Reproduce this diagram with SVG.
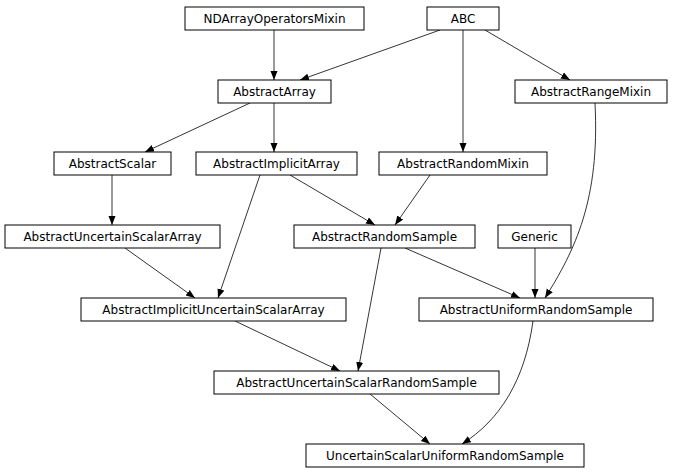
<svg xmlns="http://www.w3.org/2000/svg" width="675" height="476" viewBox="0 0 675 476">
<style>
.n rect{fill:#fff;stroke:#000;stroke-width:1}
.n text{font-family:"DejaVu Sans",sans-serif;font-size:12px;text-anchor:middle;fill:#000}
.e path{fill:none;stroke:#000;stroke-width:0.8;marker-end:url(#a)}
</style>
<defs><marker id="a" markerUnits="userSpaceOnUse" markerWidth="10" markerHeight="8" refX="9" refY="3.5" orient="auto"><path d="M0,0 L9,3.5 L0,7z" fill="#000"/></marker></defs>
<rect width="675" height="476" fill="#fff"/>
<g class="e">
<path d="M274,30 L274,80"/>
<path d="M440,30 L300,80"/>
<path d="M463,30 L463,152"/>
<path d="M485,30 L570,80"/>
<path d="M250,103 L145,152"/>
<path d="M274,103 L274,152"/>
<path d="M112,175 L112,225"/>
<path d="M290,175 L375,225"/>
<path d="M260,175 L218,298"/>
<path d="M430,175 L395,225"/>
<path d="M125,248 L195,298"/>
<path d="M405,248 L520,298"/>
<path d="M381,248 L358,371"/>
<path d="M535,248 L535,298"/>
<path d="M595,103 C600,200 575,250 545,298"/>
<path d="M235,321 L340,371"/>
<path d="M370,394 L430,444"/>
<path d="M533,321 C525,380 500,420 462,444"/>
</g>
<g class="n" id="n1"><rect x="185" y="7" width="179" height="23"/><text x="274.5" y="23">NDArrayOperatorsMixin</text></g>
<g class="n" id="n2"><rect x="427" y="7" width="72" height="23"/><text x="463" y="23">ABC</text></g>
<g class="n" id="n3"><rect x="218" y="80" width="113" height="23"/><text x="274.5" y="96">AbstractArray</text></g>
<g class="n" id="n4"><rect x="515" y="80" width="152" height="23"/><text x="591" y="96">AbstractRangeMixin</text></g>
<g class="n" id="n5"><rect x="54" y="152" width="117" height="23"/><text x="112.5" y="168">AbstractScalar</text></g>
<g class="n" id="n6"><rect x="196" y="152" width="161" height="23"/><text x="276.5" y="168">AbstractImplicitArray</text></g>
<g class="n" id="n7"><rect x="379" y="152" width="168" height="23"/><text x="463" y="168">AbstractRandomMixin</text></g>
<g class="n" id="n8"><rect x="5" y="225" width="215" height="23"/><text x="112.5" y="241">AbstractUncertainScalarArray</text></g>
<g class="n" id="n9"><rect x="294" y="225" width="181" height="23"/><text x="384.5" y="241">AbstractRandomSample</text></g>
<g class="n" id="n10"><rect x="498" y="225" width="73" height="23"/><text x="534.5" y="241">Generic</text></g>
<g class="n" id="n11"><rect x="81" y="298" width="265" height="23"/><text x="213.5" y="314">AbstractImplicitUncertainScalarArray</text></g>
<g class="n" id="n12"><rect x="419" y="298" width="234" height="23"/><text x="536" y="314">AbstractUniformRandomSample</text></g>
<g class="n" id="n13"><rect x="214" y="371" width="285" height="23"/><text x="356.5" y="387">AbstractUncertainScalarRandomSample</text></g>
<g class="n" id="n14"><rect x="306" y="444" width="278" height="23"/><text x="445" y="460">UncertainScalarUniformRandomSample</text></g>
</svg>
